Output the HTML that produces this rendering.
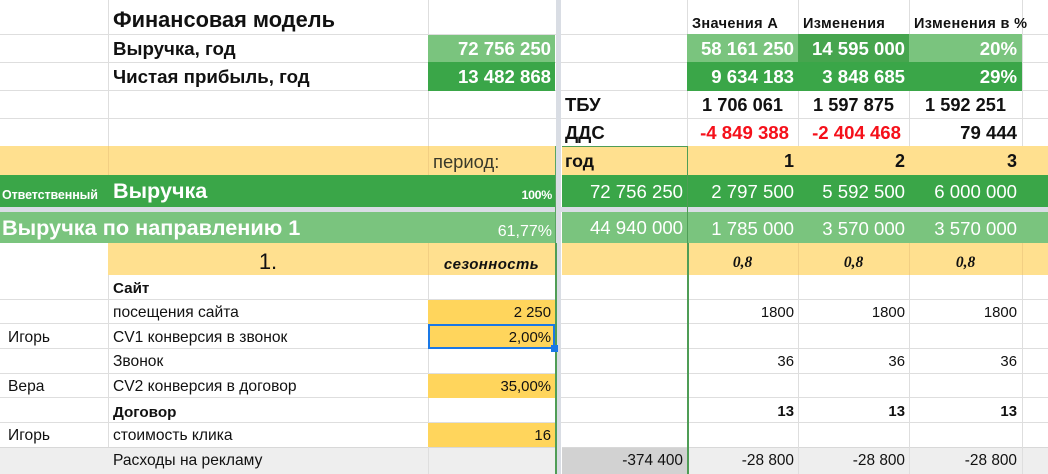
<!DOCTYPE html>
<html lang="ru">
<head>
<meta charset="utf-8">
<title>Финансовая модель</title>
<style>
html,body{margin:0;padding:0;background:#fff}
#sheet{position:relative;width:1048px;height:474px;overflow:hidden;background:#fff;font-family:"Liberation Sans",sans-serif;color:#111;filter:blur(.3px)}
#sheet div{position:absolute;box-sizing:border-box;white-space:nowrap}
.c{display:block;padding:0 4px;overflow:visible}
.r{text-align:right}.m{text-align:center}
.b{font-weight:bold}
.big{font-size:18.6px}
.sm{font-size:14.9px}
.lb{font-size:15.6px}
.bl{font-size:15.2px;font-weight:bold}
.hd{font-size:14.5px;font-weight:bold;letter-spacing:.35px}
.w{color:#fff}
.lg{background:#7ac47e}.dg{background:#3aa648}.ly{background:#ffe08f}.cy{background:#ffd55c}.gr{background:#eeeeee}
.hl{height:1px;background:#dedede}
.vl{width:1px;background:#dedede}
</style>
</head>
<body>
<div id="sheet">
  <!-- grid lines -->
  <div class="hl" style="left:0;top:34px;width:1048px"></div>
  <div class="hl" style="left:0;top:62px;width:1048px"></div>
  <div class="hl" style="left:0;top:90px;width:1048px"></div>
  <div class="hl" style="left:0;top:118px;width:1048px"></div>
  <div class="hl" style="left:0;top:299px;width:1048px"></div>
  <div class="hl" style="left:0;top:323px;width:1048px"></div>
  <div class="hl" style="left:0;top:348px;width:1048px"></div>
  <div class="hl" style="left:0;top:373px;width:1048px"></div>
  <div class="hl" style="left:0;top:397px;width:1048px"></div>
  <div class="hl" style="left:0;top:422px;width:1048px"></div>
  <div class="vl" style="left:108px;top:0;height:474px"></div>
  <div class="vl" style="left:428px;top:0;height:474px"></div>
  <div class="vl" style="left:687px;top:0;height:474px"></div>
  <div class="vl" style="left:798px;top:0;height:474px"></div>
  <div class="vl" style="left:909px;top:0;height:474px"></div>
  <div class="vl" style="left:1022px;top:0;height:474px"></div>

  <!-- title row -->
  <div class="c b" style="left:109px;top:5px;width:319px;height:30px;line-height:30px;font-size:21.8px">Финансовая модель</div>
  <div class="c hd" style="left:688px;top:6px;width:110px;height:28px;line-height:36px">Значения А</div>
  <div class="c hd" style="left:799px;top:6px;width:110px;height:28px;line-height:36px">Изменения</div>
  <div class="c hd" style="left:910px;top:6px;width:125px;height:28px;line-height:36px">Изменения в %</div>

  <!-- revenue / profit -->
  <div class="c b" style="left:109px;top:34px;width:319px;height:28px;line-height:30px;font-size:18.7px">Выручка, год</div>
  <div class="c b" style="left:109px;top:62px;width:319px;height:28px;line-height:30px;font-size:18.7px">Чистая прибыль, год</div>
  <div class="c r b big w lg" style="left:428px;top:35px;width:127px;height:27px;line-height:28px">72 756 250</div>
  <div class="c r b big w dg" style="left:428px;top:62px;width:127px;height:29px;line-height:30px">13 482 868</div>
  <div class="c r b big w lg" style="left:687px;top:34px;width:111px;height:28px;line-height:29px">58 161 250</div>
  <div class="c r b big w" style="left:798px;top:34px;width:111px;height:28px;line-height:29px;background:#46a54e">14 595 000</div>
  <div class="c r b big w lg" style="left:909px;top:34px;width:113px;height:28px;line-height:29px;padding-right:5px">20%</div>
  <div class="c r b big w dg" style="left:687px;top:62px;width:111px;height:29px;line-height:30px">9 634 183</div>
  <div class="c r b big w dg" style="left:798px;top:62px;width:111px;height:29px;line-height:30px">3 848 685</div>
  <div class="c r b big w dg" style="left:909px;top:62px;width:113px;height:29px;line-height:30px;padding-right:5px">29%</div>

  <!-- ТБУ / ДДС -->
  <div class="c b" style="left:561px;top:91px;width:126px;height:27px;line-height:28px;font-size:18.5px">ТБУ</div>
  <div class="c m b" style="left:687px;top:91px;width:111px;height:27px;line-height:28px;font-size:18.2px">1 706 061</div>
  <div class="c m b" style="left:798px;top:91px;width:111px;height:27px;line-height:28px;font-size:18.2px">1 597 875</div>
  <div class="c m b" style="left:909px;top:91px;width:113px;height:27px;line-height:28px;font-size:18.2px">1 592 251</div>
  <div class="c b" style="left:561px;top:119px;width:126px;height:27px;line-height:28px;font-size:18.5px">ДДС</div>
  <div class="c r b big" style="left:687px;top:119px;width:111px;height:27px;line-height:28px;color:#f5101a;padding-right:9px">-4 849 388</div>
  <div class="c r b big" style="left:798px;top:119px;width:111px;height:27px;line-height:28px;color:#f5101a;padding-right:8px">-2 404 468</div>
  <div class="c r b big" style="left:909px;top:119px;width:113px;height:27px;line-height:28px;padding-right:5px">79 444</div>

  <!-- period row -->
  <div class="ly" style="left:0;top:146px;width:555px;height:29px"></div>
  <div class="ly" style="left:562px;top:146px;width:486px;height:29px"></div>
  <div class="vl" style="left:108px;top:146px;height:29px;background:#f2cf83"></div>
  <div class="vl" style="left:428px;top:146px;height:29px;background:#f2cf83"></div>
  <div class="c" style="left:429px;top:146px;width:126px;height:29px;line-height:31px;font-size:18.4px;color:#3a3a2a">период:</div>
  <div class="c b" style="left:561px;top:146px;width:126px;height:29px;line-height:31px;font-size:17.8px">год</div>
  <div class="c r b" style="left:687px;top:146px;width:111px;height:29px;line-height:31px;font-size:18px">1</div>
  <div class="c r b" style="left:798px;top:146px;width:111px;height:29px;line-height:31px;font-size:18px">2</div>
  <div class="c r b" style="left:909px;top:146px;width:113px;height:29px;line-height:31px;font-size:18px;padding-right:5px">3</div>

  <!-- Выручка total row -->
  <div class="dg" style="left:0;top:175px;width:555px;height:32px"></div>
  <div class="dg" style="left:562px;top:175px;width:486px;height:32px"></div>
  <div class="c b w" style="left:-2px;top:175px;width:108px;height:32px;line-height:41px;font-size:12.5px;letter-spacing:-.1px">Ответственный</div>
  <div class="c b w" style="left:109px;top:175px;width:319px;height:32px;line-height:32px;font-size:21.6px">Выручка</div>
  <div class="c r b w" style="left:428px;top:175px;width:127px;height:32px;line-height:41px;font-size:12.4px;padding-right:3px;letter-spacing:-.3px">100%</div>
  <div class="c r big w" style="left:562px;top:175px;width:125px;height:32px;line-height:34px">72 756 250</div>
  <div class="c r big w" style="left:687px;top:175px;width:111px;height:32px;line-height:34px">2 797 500</div>
  <div class="c r big w" style="left:798px;top:175px;width:111px;height:32px;line-height:34px">5 592 500</div>
  <div class="c r big w" style="left:909px;top:175px;width:113px;height:32px;line-height:34px;padding-right:5px">6 000 000</div>

  <!-- frozen row separator -->
  <div style="left:0;top:207px;width:1048px;height:5px;background:#d9dde4"></div>

  <!-- направление row -->
  <div class="lg" style="left:0;top:212px;width:555px;height:31px"></div>
  <div class="lg" style="left:562px;top:212px;width:486px;height:31px"></div>
  <div class="c b w" style="left:-2px;top:212px;width:428px;height:31px;line-height:31px;font-size:21.7px">Выручка по направлению 1</div>
  <div class="c r w" style="left:428px;top:212px;width:127px;height:31px;line-height:39px;font-size:16px;padding-right:3px">61,77%</div>
  <div class="c r big w" style="left:562px;top:212px;width:125px;height:31px;line-height:32px">44 940 000</div>
  <div class="c r big w" style="left:687px;top:212px;width:111px;height:31px;line-height:33px">1 785 000</div>
  <div class="c r big w" style="left:798px;top:212px;width:111px;height:31px;line-height:33px">3 570 000</div>
  <div class="c r big w" style="left:909px;top:212px;width:113px;height:31px;line-height:33px;padding-right:5px">3 570 000</div>

  <!-- section row -->
  <div class="ly" style="left:108px;top:243px;width:447px;height:32px"></div>
  <div class="ly" style="left:562px;top:243px;width:486px;height:32px"></div>
  <div class="vl" style="left:428px;top:243px;height:32px;background:#f2cf83"></div>
  <div class="vl" style="left:798px;top:243px;height:32px;background:#f2cf83"></div>
  <div class="vl" style="left:909px;top:243px;height:32px;background:#f2cf83"></div>
  <div class="vl" style="left:1022px;top:243px;height:32px;background:#f2cf83"></div>
  <div class="c m" style="left:108px;top:243px;width:320px;height:32px;line-height:38px;font-size:22px">1.</div>
  <div class="c m b" style="left:428px;top:243px;width:127px;height:32px;line-height:43px;font-size:15px;font-style:italic;letter-spacing:.4px">сезонность</div>
  <div class="c m b" style="left:687px;top:243px;width:111px;height:32px;line-height:39px;font-size:15.5px;font-style:italic;font-family:'Liberation Serif',serif">0,8</div>
  <div class="c m b" style="left:798px;top:243px;width:111px;height:32px;line-height:39px;font-size:15.5px;font-style:italic;font-family:'Liberation Serif',serif">0,8</div>
  <div class="c m b" style="left:909px;top:243px;width:113px;height:32px;line-height:39px;font-size:15.5px;font-style:italic;font-family:'Liberation Serif',serif">0,8</div>

  <!-- detail rows -->
  <div class="c bl" style="left:109px;top:276px;width:319px;height:24px;line-height:25px">Сайт</div>
  <div class="c lb" style="left:109px;top:301px;width:319px;height:24px;line-height:24px">посещения сайта</div>
  <div class="c r sm cy" style="left:428px;top:300px;width:127px;height:24px;line-height:26px">2 250</div>
  <div class="c r sm" style="left:687px;top:300px;width:111px;height:24px;line-height:26px">1800</div>
  <div class="c r sm" style="left:798px;top:300px;width:111px;height:24px;line-height:26px">1800</div>
  <div class="c r sm" style="left:909px;top:300px;width:113px;height:24px;line-height:26px;padding-right:5px">1800</div>

  <div class="c lb" style="left:4px;top:326px;width:100px;height:24px;line-height:24px">Игорь</div>
  <div class="c lb" style="left:109px;top:326px;width:319px;height:24px;line-height:24px">CV1 конверсия в звонок</div>
  <div class="c r sm cy" style="left:428px;top:324px;width:127px;height:25px;line-height:24px;border:2px solid #1a78e6;padding-right:2px">2,00%</div>

  <div class="c lb" style="left:109px;top:350px;width:319px;height:24px;line-height:24px">Звонок</div>
  <div class="c r sm" style="left:687px;top:349px;width:111px;height:24px;line-height:26px">36</div>
  <div class="c r sm" style="left:798px;top:349px;width:111px;height:24px;line-height:26px">36</div>
  <div class="c r sm" style="left:909px;top:349px;width:113px;height:24px;line-height:26px;padding-right:5px">36</div>

  <div class="c lb" style="left:4px;top:375px;width:100px;height:24px;line-height:24px">Вера</div>
  <div class="c lb" style="left:109px;top:375px;width:319px;height:24px;line-height:24px">CV2 конверсия в договор</div>
  <div class="c r sm cy" style="left:428px;top:374px;width:127px;height:24px;line-height:26px">35,00%</div>

  <div class="c bl" style="left:109px;top:400px;width:319px;height:24px;line-height:25px">Договор</div>
  <div class="c r b sm" style="left:687px;top:399px;width:111px;height:24px;line-height:27px">13</div>
  <div class="c r b sm" style="left:798px;top:399px;width:111px;height:24px;line-height:27px">13</div>
  <div class="c r b sm" style="left:909px;top:399px;width:113px;height:24px;line-height:27px;padding-right:5px">13</div>

  <div class="c lb" style="left:4px;top:424px;width:100px;height:24px;line-height:24px">Игорь</div>
  <div class="c lb" style="left:109px;top:424px;width:319px;height:24px;line-height:24px">стоимость клика</div>
  <div class="c r sm cy" style="left:428px;top:423px;width:127px;height:24px;line-height:26px">16</div>

  <!-- ad spend row -->
  <div class="gr" style="left:0;top:447px;width:555px;height:27px;border-top:1px solid #d8d8d8"></div>
  <div class="gr" style="left:562px;top:447px;width:486px;height:27px;border-top:1px solid #d8d8d8"></div>
  <div class="vl" style="left:428px;top:447px;height:27px"></div>
  <div class="vl" style="left:798px;top:447px;height:27px"></div>
  <div class="vl" style="left:909px;top:447px;height:27px"></div>
  <div class="vl" style="left:1022px;top:447px;height:27px"></div>
  <div class="c lb" style="left:109px;top:449px;width:319px;height:25px;line-height:24px">Расходы на рекламу</div>
  <div class="c r sm" style="left:562px;top:448px;width:125px;height:26px;line-height:26px;background:#d2d2d2;font-size:15.4px">-374 400</div>
  <div class="c r sm" style="left:687px;top:448px;width:111px;height:26px;line-height:26px;font-size:15.4px">-28 800</div>
  <div class="c r sm" style="left:798px;top:448px;width:111px;height:26px;line-height:26px;font-size:15.4px">-28 800</div>
  <div class="c r sm" style="left:909px;top:448px;width:113px;height:26px;line-height:26px;padding-right:5px;font-size:15.4px">-28 800</div>

  <!-- frozen column and green borders -->
  <div style="left:556px;top:0;width:5px;height:474px;background:#d9dde4"></div>
  <div style="left:555px;top:146px;width:1px;height:97px;background:#5aa562"></div>
  <div style="left:555px;top:243px;width:2px;height:231px;background:#4f9d56"></div>
  <div style="left:687px;top:146px;width:1px;height:97px;background:#4f9d56"></div>
  <div style="left:687px;top:243px;width:2px;height:231px;background:#4f9d56"></div>
  <div style="left:562px;top:146px;width:126px;height:1px;background:#4f9d56"></div>
  <div style="left:551px;top:345px;width:7px;height:7px;background:#1a78e6"></div>
</div>
</body>
</html>
